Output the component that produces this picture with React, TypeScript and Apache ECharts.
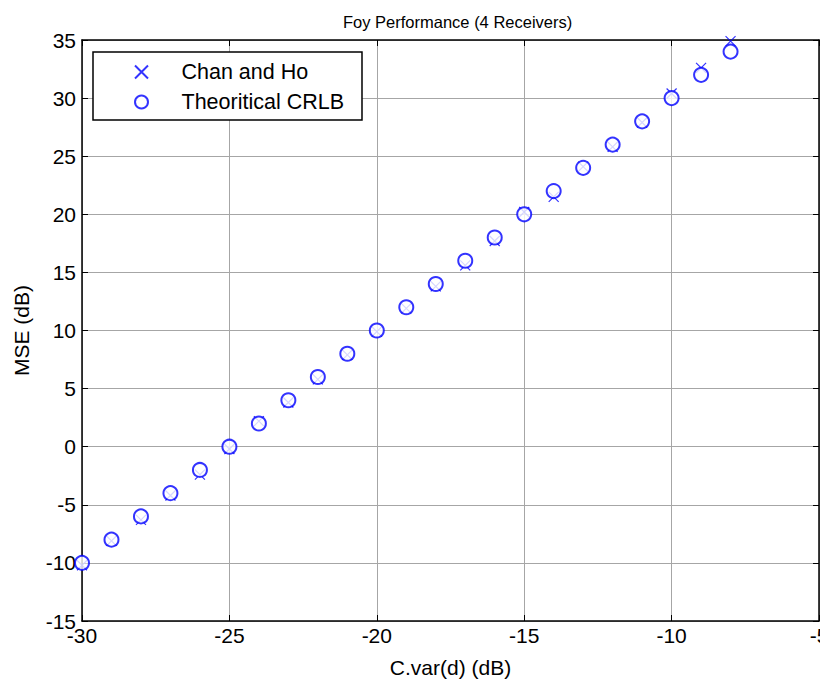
import React, { useEffect, useRef } from "react";
import * as echarts from "echarts";

const xValues = [-30, -29, -28, -27, -26, -25, -24, -23, -22, -21, -20, -19, -18, -17, -16, -15, -14, -13, -12, -11, -10, -9, -8];
const chanHo = [-10.2, -8.1, -6.3, -4.2, -2.4, -0.2, 2.2, 3.8, 5.8, 7.9, 9.9, 11.9, 13.8, 15.6, 17.7, 20.2, 21.5, 24.1, 25.8, 27.9, 30.4, 32.6, 34.9];
const crlb = [-10, -8, -6, -4, -2, 0, 2, 4, 6, 8, 10, 12, 14, 16, 18, 20, 22, 24, 26, 28, 30, 32, 34];
const seriesNames = ["Chan and Ho", "Theoritical CRLB"];
const titleText = "Foy Performance (4 Receivers)";
const xName = "C.var(d) (dB)";
const yName = "MSE (dB)";

const FONT = "'Liberation Sans', Arial, sans-serif";
const BLUE = "#0000ff";

export default function App() {
  const ref = useRef<HTMLDivElement>(null);
  useEffect(() => {
    document.body.style.margin = "0";
    document.documentElement.style.overflow = "hidden";
    const chart = echarts.init(ref.current!, undefined, { renderer: "svg" });
    const axisLine = { show: true, onZero: false, lineStyle: { color: "#000", width: 1.5 } };
    const tick = { show: true, inside: true, length: 6, lineStyle: { color: "#000", width: 1 } };
    chart.setOption({
      animation: false,
      backgroundColor: "#fff",
      textStyle: { fontFamily: FONT },
      title: {
        text: titleText,
        left: 338,
        top: 8,
        textStyle: { fontFamily: FONT, fontSize: 16.5, fontWeight: "normal", color: "#000" },
      },
      grid: { left: 82, right: 1, top: 40, bottom: 63, containLabel: false, outerBoundsMode: "none" },
      legend: {
        orient: "vertical",
        left: 93,
        top: 52,
        data: seriesNames,
        backgroundColor: "#fff",
        borderColor: "#000",
        borderWidth: 1.5,
        padding: [9, 18, 7, 41],
        itemWidth: 70,
        itemHeight: 13,
        itemGap: 8,
        symbolKeepAspect: true,
        textStyle: { fontFamily: FONT, fontSize: 21.5, color: "#000", lineHeight: 21 },
      },
      xAxis: [
        {
          type: "value",
          min: -30,
          max: -5,
          interval: 5,
          name: xName,
          nameLocation: "middle",
          nameGap: 36,
          nameTextStyle: { fontFamily: FONT, fontSize: 21, color: "#000" },
          axisLine,
          axisTick: tick,
          axisLabel: { fontFamily: FONT, fontSize: 21, color: "#000", margin: 4 },
          splitLine: { show: true, lineStyle: { color: "#a6a6a6", width: 1 } },
        },
        {
          type: "value",
          position: "top",
          min: -30,
          max: -5,
          interval: 5,
          axisLine,
          axisTick: tick,
          axisLabel: { show: false },
          splitLine: { show: false },
        },
      ],
      yAxis: [
        {
          type: "value",
          min: -15,
          max: 35,
          interval: 5,
          name: yName,
          nameLocation: "middle",
          nameGap: 50,
          nameTextStyle: { fontFamily: FONT, fontSize: 21, color: "#000" },
          axisLine,
          axisTick: tick,
          axisLabel: { fontFamily: FONT, fontSize: 21, color: "#000", margin: 6 },
          splitLine: { show: true, lineStyle: { color: "#a6a6a6", width: 1 } },
        },
        {
          type: "value",
          position: "right",
          min: -15,
          max: 35,
          interval: 5,
          axisLine,
          axisTick: tick,
          axisLabel: { show: false },
          splitLine: { show: false },
        },
      ],
      series: [
        {
          name: seriesNames[0],
          type: "scatter",
          data: xValues.map((x, i) => [x, chanHo[i]]),
          symbol: "path://M0,0L10,10M10,0L0,10",
          symbolSize: 10,
          itemStyle: { color: "rgba(0,0,0,0)", borderColor: BLUE, borderWidth: 1.2 },
          z: 3,
        },
        {
          name: seriesNames[1],
          type: "scatter",
          data: xValues.map((x, i) => [x, crlb[i]]),
          symbol: "emptyCircle",
          symbolSize: 14,
          itemStyle: { color: BLUE, borderColor: BLUE, borderWidth: 1.2 },
          z: 3,
        },
      ],
    });
    return () => chart.dispose();
  }, []);
  return <div ref={ref} style={{ width: 820, height: 684 }} />;
}
